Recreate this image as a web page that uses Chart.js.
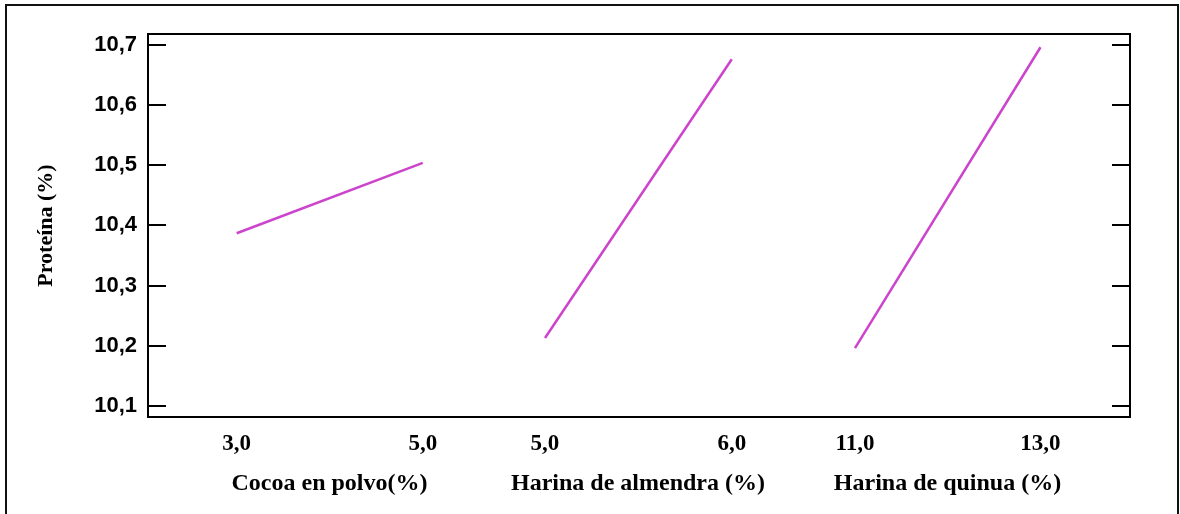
<!DOCTYPE html>
<html>
<head>
<meta charset="utf-8">
<script src="https://cdn.jsdelivr.net/npm/chart.js@4"></script>
<style>
    body { margin: 0; background: #fff; }
    canvas { display: block; }
</style>
</head>
<body>
<canvas id="chartProteina" width="1180" height="514"></canvas>
<script>
// ===== Datos =====
const cocoaX = [3.0, 5.0];
const cocoaY = [10.387, 10.504];
const almendraX = [5.0, 6.0];
const almendraY = [10.213, 10.676];
const quinuaX = [11.0, 13.0];
const quinuaY = [10.196, 10.696];

const yTicks = [10.1, 10.2, 10.3, 10.4, 10.5, 10.6, 10.7];
const cocoaTicks = [3.0, 5.0];
const almendraTicks = [5.0, 6.0];
const quinuaTicks = [11.0, 13.0];

const tituloY = 'Proteína (%)';
const tituloCocoa = 'Cocoa en polvo(%)';
const tituloAlmendra = 'Harina de almendra (%)';
const tituloQuinua = 'Harina de quinua (%)';

function puntos(xs, ys) {
    return xs.map((x, i) => ({ x: x, y: ys[i] }));
}

function coma(v) {
    return Number(v).toFixed(1).replace('.', ',');
}

const colorLinea = '#cc44cc';

function ejeX(ticks, titulo, min, max, peso) {
    return {
        type: 'linear',
        axis: 'x',
        position: 'bottom',
        stack: 'efectos',
        stackWeight: peso,
        min: min,
        max: max,
        afterBuildTicks: (scale) => {
            scale.ticks = ticks.map(v => ({ value: v }));
        },
        afterFit: (scale) => {
            scale.height = 97;
        },
        grid: { display: false, drawTicks: false },
        border: { display: false },
        ticks: {
            autoSkip: false,
            maxRotation: 0,
            padding: 13,
            color: '#000',
            font: { family: '"Liberation Serif", "Times New Roman", serif', size: 23, weight: 'bold' },
            callback: (v) => coma(v)
        },
        title: {
            display: true,
            text: titulo,
            color: '#000',
            padding: { top: 0, bottom: 16 },
            font: { family: '"Liberation Serif", "Times New Roman", serif', size: 24, weight: 'bold' }
        }
    };
}

// marco del grafico y marcas hacia adentro
const marcoPlugin = {
    id: 'marco',
    afterDraw(chart) {
        const c = chart.ctx;
        const a = chart.chartArea;
        const y = chart.scales.y;
        c.save();
        c.strokeStyle = '#000';
        c.lineWidth = 2;
        c.strokeRect(a.left, a.top, a.right - a.left, a.bottom - a.top);
        c.beginPath();
        yTicks.forEach(v => {
            const py = Math.round(y.getPixelForValue(v));
            c.moveTo(a.left, py);
            c.lineTo(a.left + 18, py);
            c.moveTo(a.right - 18, py);
            c.lineTo(a.right, py);
        });
        c.stroke();
        // borde exterior
        c.strokeStyle = '#111';
        c.beginPath();
        c.moveTo(6, 514);
        c.lineTo(6, 5);
        c.lineTo(1178, 5);
        c.lineTo(1178, 514);
        c.stroke();
        c.restore();
    }
};

const ctx = document.getElementById('chartProteina');
new Chart(ctx, {
    type: 'line',
    data: {
        datasets: [
            { data: puntos(cocoaX, cocoaY), xAxisID: 'x1', yAxisID: 'y' },
            { data: puntos(almendraX, almendraY), xAxisID: 'x2', yAxisID: 'y' },
            { data: puntos(quinuaX, quinuaY), xAxisID: 'x3', yAxisID: 'y' }
        ].map(d => Object.assign(d, {
            borderColor: colorLinea,
            borderWidth: 2.5,
            pointRadius: 0,
            tension: 0,
            fill: false
        }))
    },
    options: {
        responsive: false,
        animation: false,
        layout: { padding: { left: 0, right: 50, top: 34, bottom: 0 } },
        plugins: {
            legend: { display: false },
            tooltip: { enabled: false }
        },
        scales: {
            x1: ejeX(cocoaTicks, tituloCocoa, 2.047, 5.948, 363),
            x2: ejeX(almendraTicks, tituloAlmendra, 4.818, 6.178, 254),
            x3: ejeX(quinuaTicks, tituloQuinua, 10.030, 13.965, 365),
            y: {
                type: 'linear',
                position: 'left',
                min: 10.0817,
                max: 10.718,
                afterBuildTicks: (scale) => {
                    scale.ticks = yTicks.map(v => ({ value: v }));
                },
                afterFit: (scale) => {
                    scale.width = 148;
                },
                grid: { display: false, drawTicks: false },
                border: { display: false },
                ticks: {
                    padding: 11,
                    color: '#000',
                    font: { family: '"Liberation Sans", Arial, sans-serif', size: 22, weight: 'bold' },
                    callback: (v) => coma(v)
                },
                title: {
                    display: true,
                    text: tituloY,
                    color: '#000',
                    padding: { top: 33, bottom: 0 },
                    font: { family: '"Liberation Serif", "Times New Roman", serif', size: 22, weight: 'bold' }
                }
            }
        }
    },
    plugins: [marcoPlugin]
});
</script>
</body>
</html>
